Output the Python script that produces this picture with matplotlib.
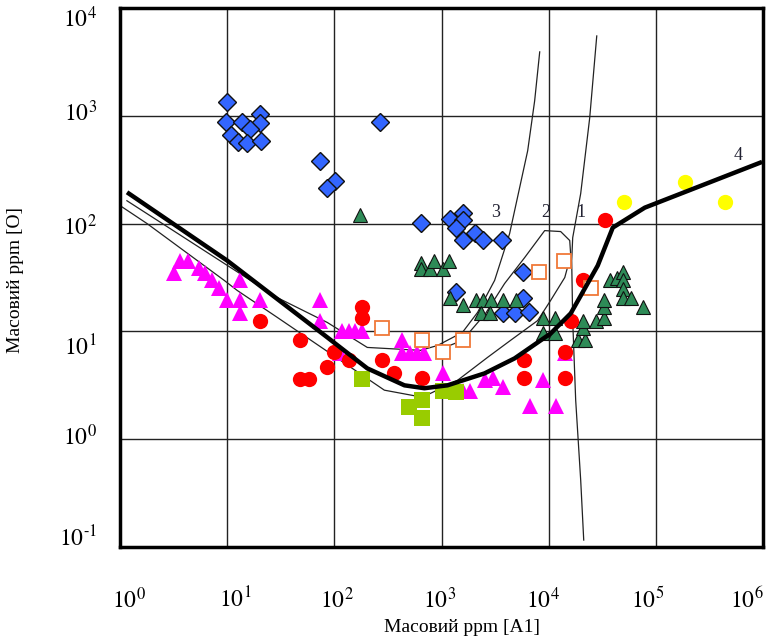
import matplotlib
matplotlib.use("Agg")
import matplotlib.pyplot as plt
from matplotlib.transforms import blended_transform_factory

plt.rcParams['font.family'] = ['Liberation Serif', 'DejaVu Serif']
plt.rcParams['mathtext.fontset'] = 'stix'

# ---- data ----
blue_x = [10.0, 9.8, 13.8, 20.3, 20.3, 10.9, 16.4, 12.7, 15.4, 20.8, 269, 74, 102, 86,
          650, 1189, 1571, 1571, 1352, 1571, 2033, 2417, 3637, 5718, 1352, 5718, 3718, 4810, 6500]
blue_y = [1349, 880, 880, 1045, 861, 667, 759, 574, 562, 587, 880, 383, 250, 215,
          102, 111, 126, 107, 92, 70, 81, 70, 70, 35.2, 23, 20.2, 14.7, 14.7, 15]

green_x = [175, 637, 637, 773, 860, 1022, 1163, 1189, 1571, 2080, 2417, 2870, 3718, 2313, 2810,
           4920, 8790, 11380, 8790, 11380, 18660, 21700, 20790, 20790, 27500, 32700, 32700, 32700,
           37150, 43300, 49200, 49200, 49200, 49200, 58400, 75700]
green_y = [119, 43.5, 38.3, 38.3, 45.4, 38.3, 45.4, 20.2, 17.4, 19.4, 19.4, 19.4, 19.4, 14.7, 14.7,
           19.4, 13.2, 13.2, 9.57, 9.57, 8.26, 8.26, 10.7, 12.6, 12.6, 13.2, 16.7, 19.4,
           29.7, 31, 35.2, 29.7, 25, 20.6, 20.2, 17]

magenta_x = [3.64, 4.32, 3.2, 5.47, 6.23, 7.24, 8.42, 10, 13.2, 13.2, 13.2, 20.3, 74, 74,
             119, 138, 157, 183, 114, 432, 432, 513, 597, 693, 1022, 1571, 1828, 2523, 3000,
             3718, 8790, 14130, 6640, 11620]
magenta_y = [45.4, 45.4, 34.5, 39.1, 34.5, 29.7, 25.5, 19.4, 29.7, 19.4, 14.7, 19.4, 19.4, 12.6,
             10, 10, 10, 10, 6.25, 8.26, 6.25, 6.25, 6.25, 6.25, 4.08, 2.78, 2.78, 3.52, 3.67,
             3.03, 3.52, 6.25, 2.02, 2.02]

red_x = [20.3, 183, 183, 48.1, 100, 138, 86, 48.1, 58.4, 281, 364, 664, 5840, 5840,
         14130, 14130, 16070, 20790, 33400]
red_y = [12.6, 16.7, 13.2, 8.26, 6.39, 5.38, 4.64, 3.6, 3.6, 5.38, 4.08, 3.67, 5.38, 3.67,
         6.39, 3.67, 12.6, 29.7, 107]

orange_x = [281, 664, 1022, 1571, 8070, 13800, 24700]
orange_y = [10.7, 8.26, 6.39, 8.26, 35.2, 45.4, 25.5]

lime_x = [183, 502, 664, 664, 1022, 1352]
lime_y = [3.6, 1.98, 2.3, 1.56, 2.78, 2.72]

yellow_x = [50200, 186600, 441000]
yellow_y = [160, 245, 160]

# curve 4 (thick)
c4_x = [1.21, 10, 86, 203, 451, 693, 1137, 2523, 4810, 10440, 16070, 28700, 39650, 78900, 938000]
c4_y = [190, 45.4, 8.8, 4.54, 3.16, 2.97, 3.16, 4.08, 5.62, 9.57, 14.7, 40.8, 91.8, 140.6, 367]

# curve 3 (upper thin)
c3_x = [1.16, 29.3, 86, 203, 637, 918, 1570, 2170, 3130, 4320, 6370, 7400, 8250]
c3_y = [163, 20.6, 12.1, 7.1, 6.67, 7.4, 9.8, 15, 29.7, 80.7, 474, 1377, 3917]

# curve 2 (lower thin with loop)
c2_x = [1.0, 1.79, 9.4, 12.4, 29.3, 293, 664, 1413, 2690, 4410, 7890, 10440, 14130, 16070,
        15720, 12940, 9180, 5970, 3880, 2580, 1570, 1022]
c2_y = [147, 100, 29.7, 24, 13.5, 2.85, 2.45, 3.52, 5.74, 8.26, 12.6, 19.4, 31.6, 50.6,
        69.7, 84.4, 86.1, 48.4, 27.8, 14.7, 8.26, 6.96]

# curve 1 (near vertical)
c1_x = [28100, 24150, 19900, 16760, 16400, 16760, 17870, 19900, 21240]
c1_y = [5505, 957, 190, 74, 45.4, 12.6, 2.3, 0.417, 0.116]

curve_labels = ['1', '2', '3', '4']
label_x = [19900, 9380, 3200, 583000]
label_y = [126, 126, 126, 427]

grid_x = [1e1, 1e2, 1e3, 1e4, 1e5]
grid_y = [1e0, 1e1, 1e2, 1e3]
xticklabels = ['$10^{0}$', '$10^{1}$', '$10^{2}$', '$10^{3}$', '$10^{4}$', '$10^{5}$', '$10^{6}$']
xticklabel_pos = [1.21, 11.9, 106.7, 957, 8790, 84100, 699000]
yticklabels = [r'$10^{\text{-}1}$', '$10^{0}$', '$10^{1}$', '$10^{2}$', '$10^{3}$', '$10^{4}$']
yticklabel_pos = [0.121, 1.045, 7.1, 91.8, 1045, 7900]

# ---- figure ----
fig = plt.figure(figsize=(7.7, 6.41), dpi=100)
ax = fig.add_axes([120/770, 1 - 547/641, 643/770, 539/641])
ax.set_xscale('log')
ax.set_yscale('log')
ax.set_xlim(1, 1e6)
ax.set_ylim(1e-1, 1e4)
ax.minorticks_off()
ax.set_xticks(grid_x)
ax.set_yticks(grid_y)
ax.set_xticklabels([])
ax.set_yticklabels([])
ax.tick_params(axis='both', which='both', length=0)
ax.grid(True, which='major', color='#222222', linewidth=1.0)
ax.set_axisbelow(True)

ax.plot(c3_x, c3_y, color='#222222', lw=0.9, zorder=2)
ax.plot(c2_x, c2_y, color='#222222', lw=0.9, zorder=2)
ax.plot(c1_x, c1_y, color='#222222', lw=0.9, zorder=2)

ax.plot(blue_x, blue_y, ls='none', marker='D', ms=9, mfc='#3366FF', mec='#111111', mew=1.0, zorder=3)
ax.plot(green_x, green_y, ls='none', marker='^', ms=9.5, mfc='#2E8B57', mec='#111111', mew=0.8, zorder=3)
ax.plot(magenta_x, magenta_y, ls='none', marker='^', ms=11, mfc='#FF00FF', mec='#FF00FF', mew=0, zorder=3)
ax.plot(red_x, red_y, ls='none', marker='o', ms=11, mfc='#FF0000', mec='#FF0000', mew=0, zorder=3)
ax.plot(orange_x, orange_y, ls='none', marker='s', ms=10, mfc='white', mec='#F07838', mew=1.3, zorder=3)
ax.plot(lime_x, lime_y, ls='none', marker='s', ms=11, mfc='#99CC00', mec='#99CC00', mew=0, zorder=3)
ax.plot(yellow_x, yellow_y, ls='none', marker='o', ms=11, mfc='#FFFF00', mec='#FFFF00', mew=0, zorder=3)

ax.plot(c4_x, c4_y, color='black', lw=3.2, solid_joinstyle='round', zorder=4)

for t, x, y in zip(curve_labels, label_x, label_y):
    ax.text(x, y, t, fontsize=13, ha='center', va='center', color='#222233', zorder=5)

# tick labels
tx = blended_transform_factory(ax.transData, fig.transFigure)
for t, x in zip(xticklabels, xticklabel_pos):
    fig.text(x, 1 - 600/641, t, transform=tx, fontsize=17, ha='center', va='center')
ty = blended_transform_factory(fig.transFigure, ax.transData)
for t, y in zip(yticklabels, yticklabel_pos):
    fig.text(97/770, y, t, transform=ty, fontsize=17, ha='right', va='center')

for s in ax.spines.values():
    s.set_linewidth(2.5)
    s.set_color('black')

fig.text(462/770, 1 - 627/641, 'Масовий ppm [A1]', fontsize=14, ha='center', va='center')
fig.text(16/770, 1 - 280/641, 'Масовий ppm [O]', fontsize=14, ha='center', va='center', rotation=90)

fig.savefig('out.png', dpi=100)
